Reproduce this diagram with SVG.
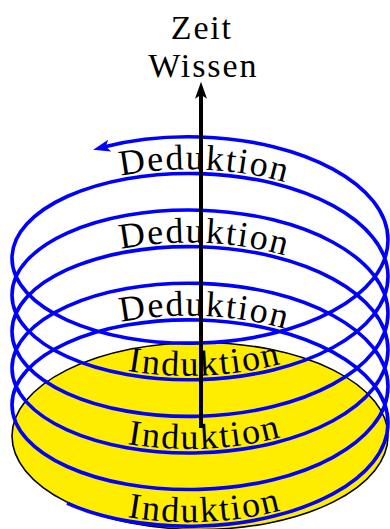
<svg xmlns="http://www.w3.org/2000/svg" width="390" height="529" viewBox="0 0 390 529">
<style>
.lbl{font-family:"Liberation Serif","Times New Roman",serif;font-size:36px;fill:#000}
.top{font-size:34px}
.helix{fill:none;stroke:#0000ff;stroke-width:3.6}
.axis{fill:none;stroke:#000;stroke-width:4}
.disk{fill:#ffed00;stroke:#000;stroke-width:1.6}
</style>
<defs>
<marker id="ah-blue" markerUnits="userSpaceOnUse" viewBox="0 0 18 14" markerWidth="18" markerHeight="14" refX="5" refY="7" orient="auto"><path d="M0,1 L17,7 L0,13 L4,7 Z" fill="#0000ff"/></marker>
<marker id="ah-black" markerUnits="userSpaceOnUse" viewBox="0 0 18 14" markerWidth="18" markerHeight="14" refX="5" refY="7" orient="auto"><path d="M0,1 L17,7 L0,13 L4,7 Z" fill="#000"/></marker>
<path id="tpD1" d="M86.22,184.95 C153.48,161.95 246.52,164.47 313.78,192.52"/>
<path id="tpD2" d="M86.22,258.15 C153.48,235.15 246.52,237.67 313.78,265.72"/>
<path id="tpD3" d="M86.22,331.35 C153.48,308.35 246.52,310.87 313.78,338.92"/>
<path id="tpI1" d="M86.22,360.25 C153.48,383.25 246.52,380.73 313.78,352.68"/>
<path id="tpI2" d="M86.22,433.45 C153.48,456.45 246.52,453.93 313.78,425.88"/>
<path id="tpI3" d="M86.22,506.65 C153.48,529.65 246.52,527.13 313.78,499.08"/>
</defs>
<rect width="390" height="529" fill="#fff"/>
<g id="disk">
<ellipse class="disk" cx="200" cy="436" rx="188" ry="93.5"/>
</g>
<g id="label-zeit">
<text class="lbl top" x="201.8" y="38.5" text-anchor="middle" letter-spacing="1.8">Zeit</text>
</g>
<g id="label-wissen">
<text class="lbl top" x="203.3" y="76.5" text-anchor="middle" letter-spacing="1.9">Wissen</text>
</g>
<g id="label-deduktion-1"><text class="lbl" letter-spacing="1.7"><textPath href="#tpD1" startOffset="51.5%" text-anchor="middle">Deduktion</textPath></text></g>
<g id="label-deduktion-2"><text class="lbl" letter-spacing="1.7"><textPath href="#tpD2" startOffset="51.5%" text-anchor="middle">Deduktion</textPath></text></g>
<g id="label-deduktion-3"><text class="lbl" letter-spacing="1.7"><textPath href="#tpD3" startOffset="51.5%" text-anchor="middle">Deduktion</textPath></text></g>
<g id="label-induktion-1"><text class="lbl" letter-spacing="1.8"><textPath href="#tpI1" startOffset="52%" text-anchor="middle">Induktion</textPath></text></g>
<g id="label-induktion-2"><text class="lbl" letter-spacing="1.8"><textPath href="#tpI2" startOffset="52%" text-anchor="middle">Induktion</textPath></text></g>
<g id="label-induktion-3"><text class="lbl" letter-spacing="1.8"><textPath href="#tpI3" startOffset="52%" text-anchor="middle">Induktion</textPath></text></g>
<g id="connectors">
<path class="helix" marker-end="url(#ah-blue)" d="M67.06,503.08 C102.32,519.15 150.14,527.53 200,526 C303.83,522.95 388,477.88 388,423 C388,368.12 303.83,323.05 200,320 C96.17,316.95 12,355.92 12,404.7 C12,453.48 96.17,492.45 200,489.4 C303.83,486.35 388,441.28 388,386.4 C388,331.52 303.83,286.45 200,283.4 C96.17,280.35 12,319.32 12,368.1 C12,416.88 96.17,455.85 200,452.8 C303.83,449.75 388,404.68 388,349.8 C388,294.92 303.83,249.85 200,246.8 C96.17,243.75 12,282.72 12,331.5 C12,380.28 96.17,419.25 200,416.2 C303.83,413.15 388,368.08 388,313.2 C388,258.32 303.83,213.25 200,210.2 C96.17,207.15 12,246.12 12,294.9 C12,343.68 96.17,382.65 200,379.6 C303.83,376.55 388,331.48 388,276.6 C388,221.72 303.83,176.65 200,173.6 C96.17,170.55 12,209.52 12,258.3 C12,307.08 96.17,346.05 200,343 C303.83,339.95 388,294.88 388,240 C388,185.12 303.83,140.05 200,137 C166.53,135.97 133.66,139.4 104.8,146.83"/>
<path class="axis" marker-end="url(#ah-black)" d="M201,428 L201,93.7"/>
</g>
</svg>
